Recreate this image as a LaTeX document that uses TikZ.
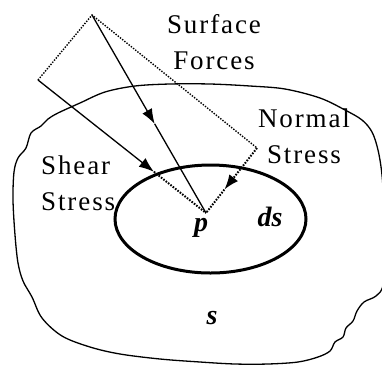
\documentclass[tikz,border=0pt]{standalone}
\usepackage{fontspec}
\setmainfont{Liberation Serif}
\newfontfamily\lblfont[LetterSpace=7]{Liberation Serif}
\usetikzlibrary{arrows.meta,calc}
\tikzset{
  lbl/.style={font=\fontsize{27}{36}\selectfont\lblfont, align=center, inner sep=0pt},
  sym/.style={font=\fontsize{28}{30}\selectfont\bfseries\itshape, inner sep=0pt},
  caja/.style={line width=1.4, dash pattern=on 1.4 off 1.4},
  trazo/.style={line width=2, dash pattern=on 1.6 off 1.4},
  flecha/.style={-{Latex[length=15,width=11]}},
}
\begin{document}
\begin{tikzpicture}[x=1pt,y=-1pt]
        \useasboundingbox (0,0) rectangle (382,365);
        % Superficie s
        \draw[line width=1.3] plot[smooth cycle, tension=0.55] coordinates {
            (48,119) (58,113) (80,103) (105,92) (135,86) (170,84) (210,84) (250,86)
            (285,89) (320,98) (345,110) (362,120) (372,132) (378,150) (382,175)
            (384,210) (384,250) (383,285) (376,296) (364,302) (357,311) (353,321)
            (346,328) (343,337) (335,342) (330,351) (318,357) (298,362) (268,364)
            (235,364) (200,362) (160,359) (120,354) (90,347) (62,336) (42,318)
            (32,297) (23,281) (18,263) (15,235) (13,200) (14,172) (18,158)
            (26,148) (31,133) (41,126)};
        % Elemento ds
        \draw[line width=3] (210.5,219) ellipse [x radius=95.5, y radius=54];
        % Caja de fuerzas
        \coordinate (T) at (92,15);
        \coordinate (L) at (38,80);
        \coordinate (R) at (257,148);
        \coordinate (p) at (206,213);
        \draw[caja] (L) -- (T) -- (R);
        \coordinate (f1) at ($(T)!0.55!(p)$);
        \coordinate (f2) at ($(L)!0.69!(p)$);
        \coordinate (f3) at ($(R)!0.64!(p)$);
        \draw[line width=1.3, flecha] (T) -- (f1);
        \draw[line width=1.3] (f1) -- (p);
        \draw[line width=1.3, flecha] (L) -- (f2);
        \draw[trazo] (f2) -- (p);
        \draw[trazo, flecha] (R) -- (f3);
        \draw[trazo] (f3) -- (p);
        % Textos
        \node[lbl, anchor=north] (fuerzas) at (214,14) {Surface\\Forces};
        \node[lbl, anchor=north] (normal) at (304,109) {Normal\\Stress};
        \node[lbl, anchor=north west, align=left] (corte) at (41,156) {Shear\\Stress};
        \node[sym] (np) at (201,228) {p};
        \node[sym] (nds) at (270,217) {ds};
        \node[sym] (ns) at (212,318) {s};
    \end{tikzpicture}
\end{document}
